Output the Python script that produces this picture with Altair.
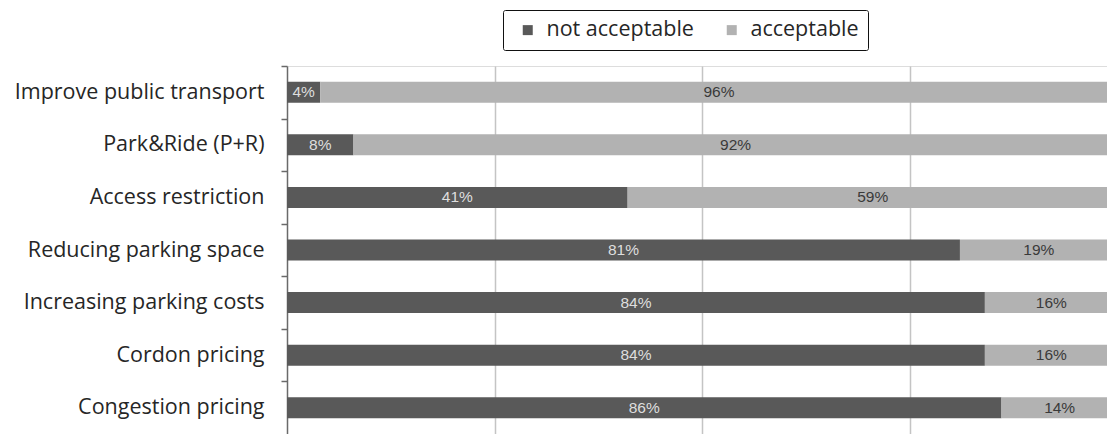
import altair as alt
import pandas as pd

categories = [
    "Improve public transport",
    "Park&Ride (P+R)",
    "Access restriction",
    "Reducing parking space",
    "Increasing parking costs",
    "Cordon pricing",
    "Congestion pricing",
]
not_acceptable = [4, 8, 41, 81, 84, 84, 86]
acceptable = [96, 92, 59, 19, 16, 16, 14]
series = ["not acceptable", "acceptable"]
colors = ["#595959", "#b2b2b2"]
label_colors = ["#dedede", "#3a3a3a"]

rows = []
for i, c in enumerate(categories):
    rows.append({"cat": c, "series": series[0], "order": 0, "v": not_acceptable[i] / 100})
    rows.append({"cat": c, "series": series[1], "order": 1, "v": acceptable[i] / 100})
df = pd.DataFrame(rows)

FONT_LAB = "Open Sans"
H = 368
STEP = H / 7.0

base = alt.Chart(df).transform_stack(
    stack="v", groupby=["cat"], as_=["x0", "x1"], sort=[alt.SortField("order")]
).transform_calculate(
    mid="(datum.x0 + datum.x1) / 2",
    lab="round(datum.v * 100) + '%'",
)

xscale = alt.Scale(domain=[0, 0.987], zero=False, nice=False)
yscale = alt.Scale(domain=categories, paddingInner=0.6, paddingOuter=0.3)

bars = base.mark_bar(clip=True).encode(
    x=alt.X("x0:Q", scale=xscale,
            axis=alt.Axis(values=[0.25, 0.5, 0.75], labels=False, ticks=False,
                          domain=False, grid=True, gridColor="#c4c4c4",
                          gridWidth=1.5, title=None)),
    x2="x1:Q",
    y=alt.Y("cat:N", scale=yscale, sort=categories,
            axis=alt.Axis(title=None, grid=False,
                          tickOffset=-STEP / 2, labelOffset=STEP / 2,
                          domainColor="#6a6a6a", tickColor="#6a6a6a",
                          domainWidth=1.5, tickWidth=1.5, tickSize=6,
                          labelPadding=17, labelFont=FONT_LAB, labelFontSize=21.5,
                          labelColor="#262626", labelLimit=400)),
    color=alt.Color("series:N", scale=alt.Scale(domain=series, range=colors),
                    sort=series,
                    legend=alt.Legend(title=None, orient="none", direction="horizontal",
                                      legendX=216, legendY=-56,
                                      strokeColor="#111111",
                                      cornerRadius=2, padding=9,
                                      symbolType="square", symbolSize=100,
                                      symbolStrokeWidth=0, symbolOffset=5,
                                      labelFont=FONT_LAB, labelFontSize=21.5,
                                      labelColor="#262626", columnPadding=22,
                                      labelOffset=8)),
)

texts = base.mark_text(font="Liberation Sans", fontSize=15.5, clip=True).encode(
    x=alt.X("mid:Q", scale=xscale),
    y=alt.Y("cat:N", scale=yscale, sort=categories),
    text="lab:N",
    color=alt.Color("series:N", scale=alt.Scale(domain=series, range=label_colors),
                    legend=None),
)

chart = alt.layer(bars, texts).resolve_scale(color="independent").properties(
    width=820, height=H,
    autosize=alt.AutoSizeParams(type="none"),
    padding={"left": 287, "top": 66, "right": 0, "bottom": 0},
).configure_view(stroke=None).configure_legend(strokeWidth=1.8).configure(background="white")

chart.save("out.html", embed_options={"renderer": "svg", "actions": False})
